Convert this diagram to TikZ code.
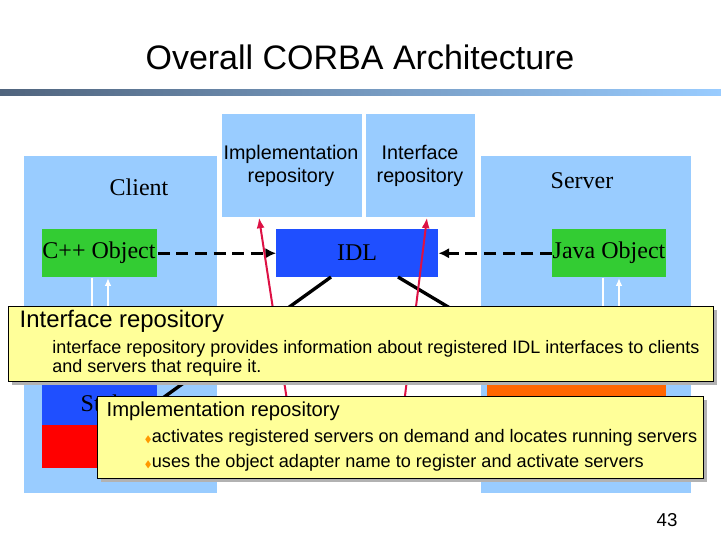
\documentclass[tikz,border=0pt]{standalone}
\usepackage{amssymb}
\usepackage{fontspec}
\setmainfont{Liberation Serif}
\setsansfont{Liberation Sans}
\usetikzlibrary{arrows.meta}
\begin{document}
\begin{tikzpicture}[x=0.75pt,y=-0.75pt,
  box/.style 2 args={minimum width=0.75*#1 pt,minimum height=0.75*#2 pt,anchor=north west,inner sep=0,draw=none},
  lbl/.style={font=\fontsize{18}{20}\selectfont},
  sf/.style={font=\sffamily\fontsize{14.8}{17}\selectfont,align=center},
  call/.style={fill=yel,draw=black,line width=0.6pt},
  dsh/.style={line width=2.2pt,dash pattern=on 9pt off 5pt,-{Latex[length=8pt,width=8pt]}},
  red/.style={draw=rd,line width=1.5pt,-{Latex[length=8pt,width=6pt]}},
  wht/.style={draw=white,line width=1.5pt,-{Latex[length=6pt,width=5pt]}}]
\definecolor{lb}{HTML}{99CCFF}
\definecolor{yel}{HTML}{FFFF99}
\definecolor{rd}{HTML}{DD1144}
\definecolor{idl}{HTML}{1F4FFF}
\definecolor{gr}{HTML}{33CC33}
\definecolor{org}{HTML}{FF6600}
\useasboundingbox (0,0) rectangle (721,541);
\node[font=\sffamily\fontsize{25.5}{30}\selectfont] (title) at (360,57) {Overall CORBA Architecture};
\shade[left color={rgb,255:red,80;green,100;blue,125},right color=lb] (0,90) rectangle (721,96);
\node[box={193}{337},fill=lb] (client) at (24,156) {};
\node[box={210}{337},fill=lb] (server) at (481,156) {};
\node[box={140}{103},fill=lb] (impl) at (222,114) {};
\node[box={109}{103},fill=lb] (intf) at (366,114) {};
\node[sf] at (291,166) {Implementation\\repository};
\node[sf] at (420,166) {Interface\\repository};
\node[lbl] at (139,187) {Client};
\node[lbl] at (582,181) {Server};
\node[box={115}{48},fill=gr] (cpp) at (42,229) {};
\node[lbl] at (99,253) {C++ Object};
\node[box={114}{48},fill=gr] (java) at (552,229) {};
\node[lbl] at (609,253) {Java Object};
\node[box={162}{48},fill=idl] (idlb) at (276,229) {};
\node[lbl] at (357,253) {IDL};
\draw[dsh] (cpp.east) -- (idlb.west);
\draw[dsh] (java.west) -- (idlb.east);
\coordinate (w1) at (92,330); \coordinate (w2) at (603,330);
\draw[white,line width=1.5pt] (cpp.south-|92,0) -- (w1);
\draw[wht] (108,330) -- (108,278);
\draw[white,line width=1.5pt] (java.south-|603,0) -- (w2);
\draw[wht] (619,330) -- (619,278);
\node[box={115}{42},fill=idl] (stub) at (42,383) {};
\node[box={115}{43},fill=red] (orbc) at (42,425) {};
\node[lbl,anchor=west] at (76,403) {Stub};
\node[box={179}{42},fill=org] (skel) at (487,383) {};
\coordinate (sk) at (470,320);
\coordinate (st) at (160,400);
\draw[line width=2.5pt] (331,277) -- (st);
\draw[line width=2.5pt] (398,277) -- (sk);
\coordinate (r1) at (290,420); \coordinate (r2) at (402,420);
\draw[red] (r1) -- (impl.south-|259,0);
\draw[red] (r2) -- (intf.south-|427,0);
% callout 1
\fill[gray!60] (12,310) rectangle (717,385);
\node[call,box={705}{75},draw=black] (c1) at (8,306) {};
\node[font=\sffamily\fontsize{17.9}{20}\selectfont,anchor=west] at (15,321) {Interface repository};
\node[font=\sffamily\fontsize{13.5}{14.2}\selectfont,anchor=north west,align=left,inner sep=0] at (52,340) {interface repository provides information about registered IDL interfaces to clients\\and servers that require it.};
% callout 2
\fill[gray!60] (101,400) rectangle (707,482);
\node[call,box={606}{82},draw=black] (c2) at (97,396) {};
\node[font=\sffamily\fontsize{15.2}{17}\selectfont,anchor=west] at (102,411) {Implementation repository};
\node[font=\sffamily\fontsize{13.6}{16}\selectfont,anchor=west] at (140,438) {\textcolor{orange!80!yellow}{\scriptsize$\blacklozenge$}activates registered servers on demand and locates running servers};
\node[font=\sffamily\fontsize{13.6}{16}\selectfont,anchor=west] at (140,463) {\textcolor{orange!80!yellow}{\scriptsize$\blacklozenge$}uses the object adapter name to register and activate servers};
\node[font=\sffamily\fontsize{14}{16}\selectfont] (pg) at (667,520) {43};
\end{tikzpicture}
\end{document}
